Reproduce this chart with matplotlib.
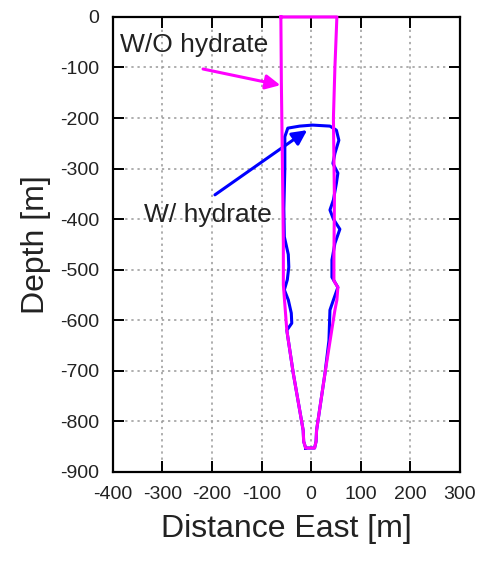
import matplotlib
matplotlib.use("Agg")
import matplotlib.pyplot as plt

plt.rcParams['font.family'] = ['Liberation Sans', 'DejaVu Sans']
plt.rcParams['axes.unicode_minus'] = False

# outline without hydrate (magenta)
wo_x = [-61, -60, -57, -56, -56, -49, -36, -16, -15, -11, 7, 10, 11, 28, 48,
        52, 54, 46, 46, 47, 45, 48, 52, -61]
wo_depth = [0, -130, -360, -450, -530, -620, -705, -818, -840, -853, -853, -840,
            -818, -705, -580, -560, -535, -522, -480, -360, -200, -100, 0, 0]

# outline with hydrate (blue)
w_x = [-11, -15, -16, -36, -49, -39, -40, -46, -54, -48, -45, -46, -54, -55,
       -53, -53, -47, -23, 3, 38, 51, 56, 48, 44, 54, 51, 45, 38, 45, 58, 48,
       42, 42, 54, 45, 38, 36, 28, 11, 10, 7, -11]
w_depth = [-853, -840, -818, -705, -620, -606, -586, -560, -540, -520, -495,
           -470, -435, -380, -300, -237, -220, -216, -214, -216, -224, -244,
           -270, -290, -309, -329, -362, -382, -400, -420, -448, -481, -515,
           -535, -560, -580, -640, -705, -818, -840, -853, -853]

xticks = [-400, -300, -200, -100, 0, 100, 200, 300]
yticks = [0, -100, -200, -300, -400, -500, -600, -700, -800, -900]

fig = plt.figure(figsize=(4.78, 5.65), dpi=100)
ax = fig.add_axes([0.236, 0.165, 0.726, 0.805])

ax.plot(w_x, w_depth, color='#0000ff', lw=2.2, zorder=3)
ax.plot(wo_x, wo_depth, color='#ff00ff', lw=2.2, zorder=4, clip_on=False)

ax.annotate('', xy=(-62, -135), xytext=(-218, -103),
            arrowprops=dict(arrowstyle='-|>', color='#ff00ff', lw=2.2,
                            mutation_scale=22, shrinkA=0, shrinkB=0))
ax.annotate('', xy=(-8, -224), xytext=(-194, -352),
            arrowprops=dict(arrowstyle='-|>', color='#0000ff', lw=2.2,
                            mutation_scale=22, shrinkA=0, shrinkB=0))
ax.text(-235, -55, 'W/O hydrate', fontsize=19, color='#222222',
        ha='center', va='center')
ax.text(-209, -392, 'W/ hydrate', fontsize=19, color='#222222',
        ha='center', va='center')

ax.set_xlim(-400, 300)
ax.set_ylim(-900, 0)
ax.set_xticks(xticks)
ax.set_yticks(yticks)
ax.grid(True, color='#999999', linestyle=(0, (1.5, 2.5)), lw=1.1)
ax.tick_params(direction='in', length=8, width=1.4, top=True, right=True,
               labelsize=14, pad=10, labelcolor='#222222')
for s in ax.spines.values():
    s.set_linewidth(1.6)

ax.set_xlabel('Distance East [m]', fontsize=23, labelpad=8, color='#222222')
ax.set_ylabel('Depth [m]', fontsize=23, labelpad=6, color='#222222')

fig.savefig('out.png', dpi=100)
